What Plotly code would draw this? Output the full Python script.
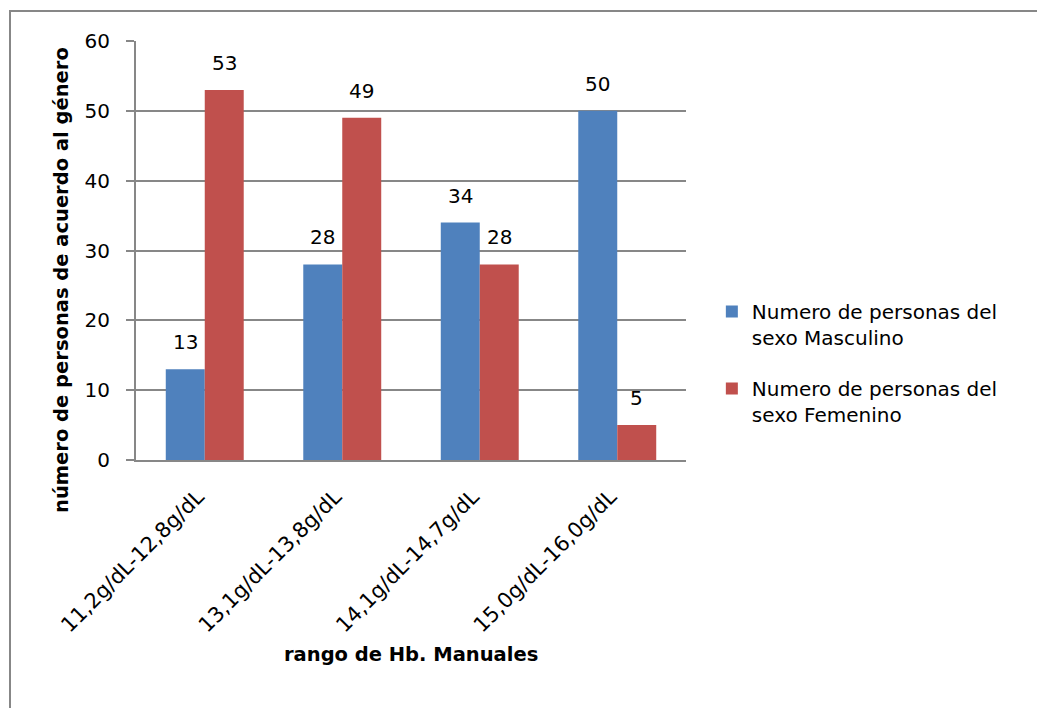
import plotly.graph_objects as go

# Hemoglobin ranges and counts per sex
categories = ["11,2g/dL-12,8g/dL", "13,1g/dL-13,8g/dL", "14,1g/dL-14,7g/dL", "15,0g/dL-16,0g/dL"]
masculino = [13, 28, 34, 50]
femenino = [53, 49, 28, 5]
series_names = ["Numero de personas del<br>sexo Masculino", "Numero de personas del<br>sexo Femenino"]
y_ticks = [0, 10, 20, 30, 40, 50, 60]

BLUE = "#4F81BD"
RED = "#C0504D"
GRID = "#878787"
FONT = "DejaVu Sans"

W, H = 1037, 708
L, R, T, B = 136, 351, 41, 248
pw, ph = W - L - R, H - T - B
BARGAP = 0.433

fig = go.Figure()
fig.add_trace(go.Bar(x=categories, y=masculino, name=series_names[0], marker_color=BLUE,
                     legendgroup="m", marker_line_width=0))
fig.add_trace(go.Bar(x=categories, y=femenino, name=series_names[1], marker_color=RED,
                     legendgroup="f", marker_line_width=0))

# value labels above each bar
bar_half = pw / 4 * (1 - BARGAP) / 4
for vals, shift in ((masculino, -bar_half), (femenino, bar_half)):
    for c, v in zip(categories, vals):
        fig.add_annotation(x=c, y=v, text=str(v), showarrow=False, xshift=shift, yshift=27,
                           yanchor="middle", font=dict(family=FONT, size=20, color="black"))

def px_x(p):
    return (p - L) / pw

def px_y(p):
    return (T + ph - p) / ph

# axis titles
fig.add_annotation(xref="paper", yref="paper", x=px_x(64), y=px_y(280), xanchor="center",
                   xshift=-3,
                   text="<b>número de personas de acuerdo al género</b>",
                   textangle=-90, showarrow=False, font=dict(family=FONT, size=19.5, color="black"))
fig.add_annotation(xref="paper", yref="paper", x=px_x(411), y=px_y(668),
                   text="<b>rango de Hb. Manuales</b>",
                   showarrow=False, font=dict(family=FONT, size=19.5, color="black"))

# chart frame
fig.add_shape(type="rect", xref="paper", yref="paper", x0=px_x(10), x1=px_x(1100), y0=px_y(11), y1=px_y(760),
              line=dict(color=GRID, width=2), layer="below")

fig.update_layout(
    width=W, height=H,
    margin=dict(l=L, r=R, t=T, b=B),
    paper_bgcolor="white", plot_bgcolor="white",
    barmode="group", bargap=BARGAP, bargroupgap=0,
    font=dict(family=FONT, size=20, color="black"),
    legend=dict(x=1.047, y=px_y(363), xanchor="left", yanchor="middle", traceorder="grouped",
                valign="top", tracegroupgap=22,
                font=dict(family=FONT, size=20, color="black"), bgcolor="rgba(0,0,0,0)"),
    xaxis=dict(showline=True, linecolor=GRID, linewidth=2, tickangle=-45, ticks="",
               showgrid=False, ticklabelstandoff=14, ticklabelshift=-7,
               tickfont=dict(family=FONT, size=21, color="black")),
    yaxis=dict(range=[0, 60], tickvals=y_ticks, showline=True, linecolor=GRID, linewidth=2,
               showgrid=True, gridcolor=GRID, gridwidth=1.5, ticks="outside", ticklen=8,
               tickcolor=GRID, tickwidth=1.5, zeroline=False, ticklabelstandoff=12,
               tickfont=dict(family=FONT, size=20, color="black")),
)

fig.write_html("out.html")
